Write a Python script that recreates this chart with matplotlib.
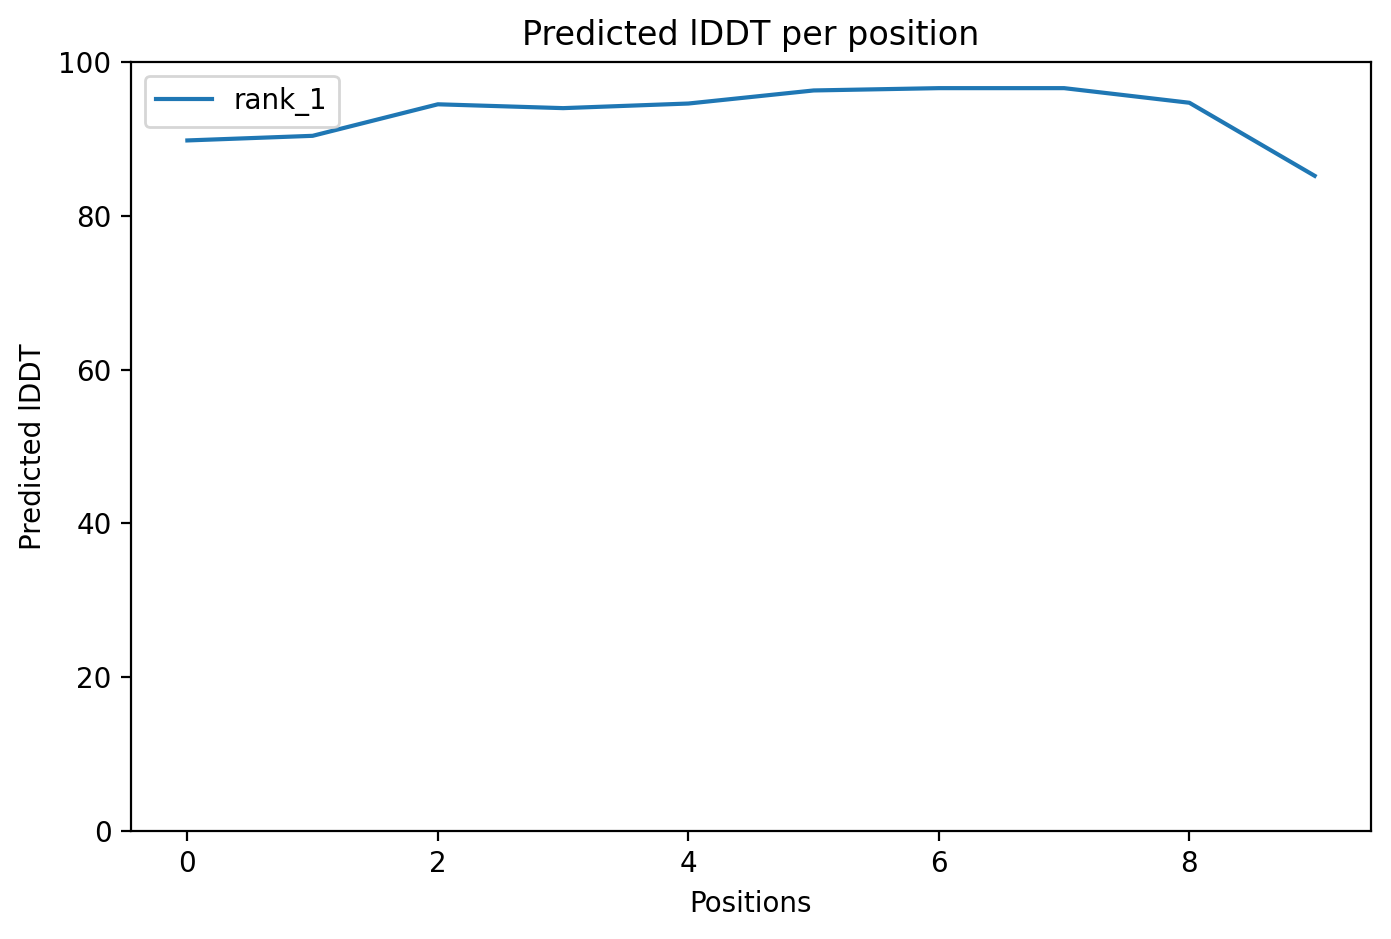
import numpy as np
import matplotlib
matplotlib.use("Agg")
import matplotlib.pyplot as plt

positions = np.arange(10)
plddt_rank_1 = [89.8, 90.4, 94.5, 94.0, 94.6, 96.3, 96.6, 96.6, 94.7, 85.2]

fig = plt.figure(figsize = (1391 / 200, 939 / 200), dpi = 200)
ax = fig.add_axes([131 / 1391, 1 - 831 / 939, 1240 / 1391, 769 / 939])

ax.plot(positions, plddt_rank_1, label = "rank_1")
ax.set_ylim(0, 100)
ax.set_title("Predicted lDDT per position")
ax.set_xlabel("Positions")
ax.set_ylabel("Predicted lDDT")
ax.legend(loc = "upper left")

fig.savefig("out.png", dpi = 200)
